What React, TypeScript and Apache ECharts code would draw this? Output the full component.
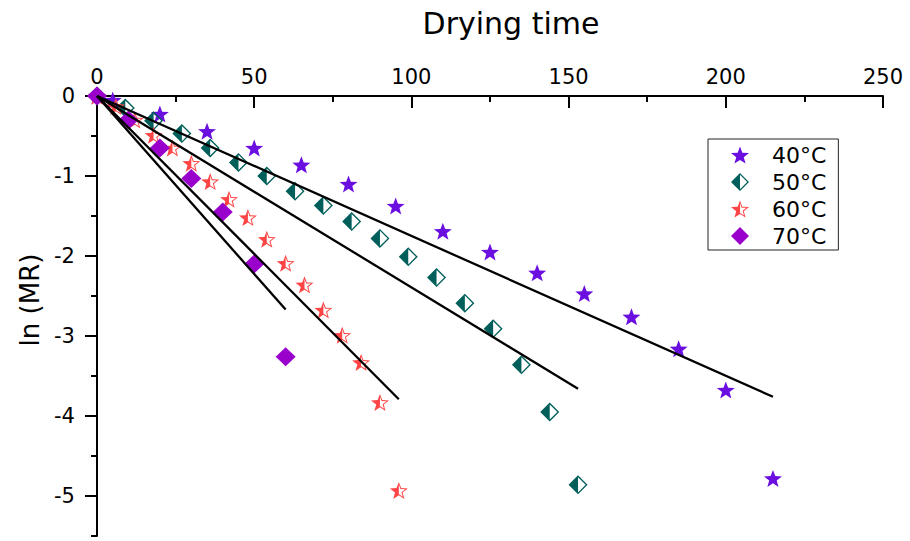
import React, { useEffect, useRef } from 'react';
import * as echarts from 'echarts';

// Drying time (x) and ln(MR) (y) for each temperature
const t40 = [0, 5, 20, 35, 50, 65, 80, 95, 110, 125, 140, 155, 170, 185, 200, 215];
const ln40 = [0, -0.05, -0.225, -0.44, -0.65, -0.86, -1.1, -1.375, -1.69, -1.95, -2.21, -2.47, -2.76, -3.16, -3.675, -4.78];

const t50 = [0, 9, 18, 27, 36, 45, 54, 63, 72, 81, 90, 99, 108, 117, 126, 135, 144, 153];
const ln50 = [0, -0.15, -0.31, -0.47, -0.65, -0.83, -1.0, -1.19, -1.37, -1.57, -1.78, -2.01, -2.27, -2.59, -2.91, -3.36, -3.95, -4.86];

const t60 = [0, 6, 12, 18, 24, 30, 36, 42, 48, 54, 60, 66, 72, 78, 84, 90, 96];
const ln60 = [0, -0.13, -0.3, -0.49, -0.65, -0.84, -1.07, -1.29, -1.52, -1.79, -2.09, -2.36, -2.675, -2.99, -3.33, -3.83, -4.93];

const t70 = [0, 10, 20, 30, 40, 50, 60];
const ln70 = [0, -0.3, -0.65, -1.03, -1.45, -2.1, -3.26];

// Linear fit lines: from origin to end point
const fitEndT = [215, 153, 96, 60];
const fitEndLn = [-3.76, -3.66, -3.79, -2.67];

const seriesNames = ['40°C', '50°C', '60°C', '70°C'];
const xTicks = [0, 50, 100, 150, 200, 250];
const yMajorTicks = [-5, -4, -3, -2, -1, 0];
const yMinorTicks = [-5.5, -4.5, -3.5, -2.5, -1.5, -0.5];

const FONT = 'DejaVu Sans';

const STAR =
  'path://M10,0 L12.47,6.6 L19.51,6.91 L13.99,11.3 L15.88,18.09 L10,14.2 L4.12,18.09 L6.01,11.3 L0.49,6.91 L7.53,6.6 Z';
const HALF_STAR =
  'path://M10,0 L7.53,6.6 L0.49,6.91 L6.01,11.3 L4.12,18.09 L10,14.2 Z ' +
  'M10,0 L12.47,6.6 L19.51,6.91 L13.99,11.3 L15.88,18.09 L10,14.2 Z ' +
  'M10,2.8 L10,12.9 L14.23,15.82 L12.76,10.9 L16.85,7.78 L11.7,7.65 Z';
const HALF_DIAMOND =
  'path://M10,0 L0,10 L10,20 Z M10,0 L20,10 L10,20 Z M10,2 L10,18 L18,10 Z';

const zip = (a: number[], b: number[]) => a.map((v, i) => [v, b[i]]);

export default function App() {
  const ref = useRef<HTMLDivElement>(null);
  useEffect(() => {
    const chart = echarts.init(ref.current!, null, { renderer: 'svg' });
    const colors = ['#6a0fe0', '#005f5a', '#ff4545', '#9900cc'];
    const symbols = [STAR, HALF_DIAMOND, HALF_STAR, 'diamond'];
    const sizes: any[] = [[18, 17], [19, 19], [18, 17], [20, 19]];
    const dataSets = [zip(t40, ln40), zip(t50, ln50), zip(t60, ln60), zip(t70, ln70)];

    const scatterSeries = dataSets.map((d, i) => ({
      name: seriesNames[i],
      type: 'scatter',
      data: d,
      symbol: symbols[i],
      symbolSize: sizes[i],
      itemStyle: { color: colors[i], opacity: 1 },
      z: 3,
      clip: false,
    }));
    const lineSeries = fitEndT.map((t, i) => ({
      name: 'fit ' + seriesNames[i],
      type: 'line',
      data: [[0, 0], [t, fitEndLn[i]]],
      showSymbol: false,
      symbol: 'none',
      lineStyle: { color: '#000', width: 2.3 },
      z: 4,
      silent: true,
    }));

    const axisLine = { show: true, lineStyle: { color: '#000', width: 2 } };

    chart.setOption({
      animation: false,
      backgroundColor: '#fff',
      textStyle: { fontFamily: FONT },
      grid: { left: 97, right: 27, top: 96, bottom: 5, containLabel: false },
      legend: {
        data: seriesNames,
        orient: 'vertical',
        left: 708,
        top: 139,
        padding: [5, 12, 3, 23],
        itemGap: 5,
        itemWidth: 18,
        itemHeight: 18,
        borderColor: '#222',
        borderWidth: 1,
        textStyle: { fontSize: 22, color: '#000', fontFamily: FONT, padding: [0, 0, 0, 18] },
      },
      xAxis: {
        type: 'value',
        position: 'top',
        min: 0,
        max: 250,
        interval: 50,
        name: 'Drying time',
        nameLocation: 'middle',
        nameGap: 58,
        nameTextStyle: { fontSize: 30, color: '#000', fontFamily: FONT, padding: [0, 0, 0, 42] },
        axisLine,
        axisTick: { show: true, inside: true, length: 12, lineStyle: { color: '#000', width: 2 } },
        minorTick: { show: true, splitNumber: 2, length: 6, lineStyle: { color: '#000', width: 2 } },
        axisLabel: { fontSize: 21, color: '#000', margin: 9, fontFamily: FONT, customValues: xTicks },
        splitLine: { show: false },
        minorSplitLine: { show: false },
      },
      yAxis: [
        {
          type: 'value',
          min: -5.5,
          max: 0,
          name: 'ln (MR)',
          nameLocation: 'middle',
          nameGap: 50,
          nameRotate: 90,
          nameTextStyle: { fontSize: 26, color: '#000', fontFamily: FONT, padding: [0, 0, 0, 32] },
          axisLine,
          axisTick: { show: true, inside: false, length: 12, customValues: yMajorTicks, lineStyle: { color: '#000', width: 2 } },
          axisLabel: { fontSize: 21, color: '#000', margin: 22, fontFamily: FONT, customValues: yMajorTicks },
          splitLine: { show: false },
        },
        {
          type: 'value',
          min: -5.5,
          max: 0,
          position: 'left',
          axisLine: { show: false },
          axisTick: { show: true, inside: false, length: 6, customValues: yMinorTicks, lineStyle: { color: '#000', width: 2 } },
          axisLabel: { show: false },
          splitLine: { show: false },
        },
      ],
      series: [...scatterSeries, ...lineSeries],
    });
    return () => chart.dispose();
  }, []);
  return <div ref={ref} style={{ position: 'fixed', left: 0, top: 0, width: 910, height: 541 }} />;
}
